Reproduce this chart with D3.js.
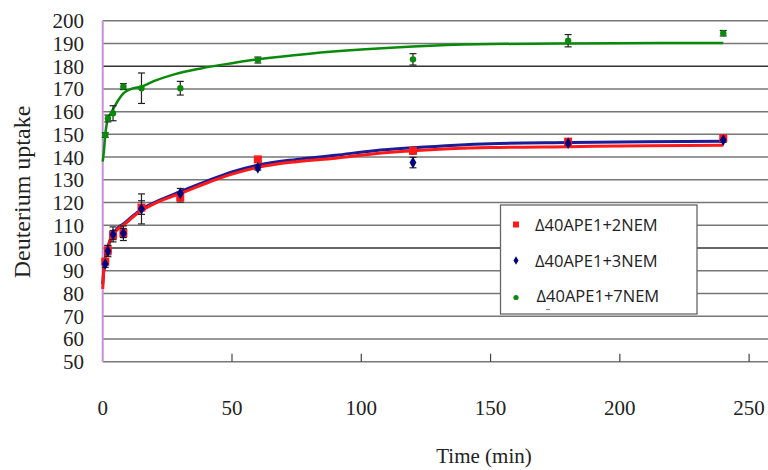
<!DOCTYPE html>
<html>
<head>
<meta charset="utf-8">
<script src="https://cdn.jsdelivr.net/npm/d3@7"></script>
<style>
  html, body { margin: 0; padding: 0; background: #fff; }
  svg { display: block; }
</style>
</head>
<body>
<svg id="chart" width="768" height="470"></svg>
<script>
// ---- data ----
const times = [1, 2, 4, 8, 15, 30, 60, 120, 180, 240];
const seriesNames = ["Δ40APE1+2NEM", "Δ40APE1+3NEM", "Δ40APE1+7NEM"];
const red = [94, 99, 105.7, 106.6, 117.8, 122.2, 139, 142.8, 146.8, 148.3];
const redErr = [1, 2, 2, 2, 3, 2, 1, 1.5, 1, 1];
const blue = [93, 98.7, 106, 106.5, 117.2, 124, 135.3, 137.6, 146.1, 147.5];
const blueErr = [1.5, 2.5, 3.3, 3.2, 6.6, 2.2, 1, 2.3, 1, 1];
const green = [149.7, 157, 159.3, 171, 170.3, 170.3, 182.7, 183, 191.2, 194.5];
const greenErr = [1, 1.5, 3.3, 1.3, 6.7, 3, 1.3, 2.5, 2.7, 1.2];
// fitted curves [time, uptake]
const redFit = [[0,82],[0.3,88],[0.7,93],[1.2,96.5],[2,100],[3,103.5],[4.5,106.5],[6,108.5],[8.5,110.5],[12,114],[15,116.5],[20,119.5],[30,124],[40,128.5],[50,132.5],[60,135.5],[75,138],[90,139.5],[105,141.5],[120,142.8],[150,144.2],[180,144.6],[210,145],[240,145.2]];
const blueFit = [[0,84],[0.3,89],[0.7,93.5],[1.2,97],[2,100.5],[3,104],[4.5,107],[6,109],[8.5,111],[12,114.5],[15,117],[20,120],[30,124.8],[40,129.3],[50,133.5],[60,136.5],[75,139],[90,140.8],[105,142.8],[120,144.1],[150,145.9],[180,146.4],[210,146.8],[240,147]];
const greenFit = [[0,138],[0.5,143],[1,150],[1.8,156],[3,159],[4,161],[6,165],[8,168],[11,170],[15,171],[20,173.5],[28,176.5],[38,179],[50,181.3],[60,183],[80,185.5],[100,187.3],[120,188.6],[145,189.6],[180,190],[240,190.2]];
const xTicks = [0, 50, 100, 150, 200, 250];
const yTicks = [50, 60, 70, 80, 90, 100, 110, 120, 130, 140, 150, 160, 170, 180, 190, 200];

// ---- scales ----
const svg = d3.select("#chart");
const x = d3.scaleLinear().domain([0, 257.3]).range([102.7, 768]);
const y = d3.scaleLinear().domain([50, 200]).range([361.7, 20.7]);

// gridlines
svg.append("g").selectAll("line").data(yTicks).join("line")
  .attr("x1", x(0)).attr("x2", 768)
  .attr("y1", d => y(d)).attr("y2", d => y(d))
  .attr("stroke", d => d === 100 || d === 180 ? "#333" : "#777")
  .attr("stroke-width", 1.5);

// bottom axis ticks (pointing up)
svg.append("g").selectAll("line").data(xTicks.filter(d => d > 0)).join("line")
  .attr("x1", d => x(d)).attr("x2", d => x(d))
  .attr("y1", y(50)).attr("y2", y(50) - 8)
  .attr("stroke", "#444").attr("stroke-width", 1.2);

// left axis line
svg.append("line")
  .attr("x1", x(0)).attr("x2", x(0)).attr("y1", y(200)).attr("y2", y(50))
  .attr("stroke", "#c88fd6").attr("stroke-width", 2);

// y tick labels
svg.append("g").selectAll("text").data(yTicks).join("text")
  .attr("x", 84).attr("y", d => y(d) + 7.5)
  .attr("text-anchor", "end")
  .attr("font-family", "'Liberation Serif', 'Times New Roman', serif")
  .attr("font-size", 21).attr("fill", "#222")
  .text(d => d);

// x tick labels
svg.append("g").selectAll("text").data(xTicks).join("text")
  .attr("x", d => x(d)).attr("y", 415)
  .attr("text-anchor", "middle")
  .attr("font-family", "'Liberation Serif', 'Times New Roman', serif")
  .attr("font-size", 21).attr("fill", "#222")
  .text(d => d);

// axis titles
svg.append("text")
  .attr("x", 484).attr("y", 463)
  .attr("text-anchor", "middle")
  .attr("font-family", "'Liberation Serif', 'Times New Roman', serif")
  .attr("font-size", 21).attr("fill", "#222")
  .text("Time (min)");
svg.append("text")
  .attr("transform", "translate(30,192) rotate(-90)")
  .attr("text-anchor", "middle")
  .attr("font-family", "'Liberation Serif', 'Times New Roman', serif")
  .attr("font-size", 24).attr("fill", "#222")
  .text("Deuterium uptake");

// fitted curves
const line = d3.line().x(d => x(d[0])).y(d => y(d[1])).curve(d3.curveMonotoneX);
svg.append("path").datum(blueFit).attr("d", line)
  .attr("fill", "none").attr("stroke", "#1c1c96").attr("stroke-width", 3);
svg.append("path").datum(redFit).attr("d", line)
  .attr("fill", "none").attr("stroke", "#ff1a1a").attr("stroke-width", 3);
svg.append("path").datum(greenFit).attr("d", line)
  .attr("fill", "none").attr("stroke", "#0a8a0a").attr("stroke-width", 2.5);

// error bars
function errorBars(vals, errs) {
  const g = svg.append("g").attr("stroke", "#222").attr("stroke-width", 1.2);
  times.forEach((t, i) => {
    const cx = x(t), y1 = y(vals[i] + errs[i]), y2 = y(vals[i] - errs[i]);
    g.append("line").attr("x1", cx).attr("x2", cx).attr("y1", y1).attr("y2", y2);
    g.append("line").attr("x1", cx - 3.5).attr("x2", cx + 3.5).attr("y1", y1).attr("y2", y1);
    g.append("line").attr("x1", cx - 3.5).attr("x2", cx + 3.5).attr("y1", y2).attr("y2", y2);
  });
}
errorBars(red, redErr);
errorBars(blue, blueErr);
errorBars(green, greenErr);

// markers
svg.append("g").selectAll("rect").data(times.map((t, i) => [t, red[i]])).join("rect")
  .attr("x", d => x(d[0]) - 4).attr("y", d => y(d[1]) - 4)
  .attr("width", 8).attr("height", 8).attr("fill", "#ff1a1a");
const diamond = d3.symbol().type(d3.symbolDiamond).size(40);
svg.append("g").selectAll("path").data(times.map((t, i) => [t, blue[i]])).join("path")
  .attr("transform", d => `translate(${x(d[0])},${y(d[1])})`)
  .attr("d", diamond).attr("fill", "#000080");
svg.append("g").selectAll("circle").data(times.map((t, i) => [t, green[i]])).join("circle")
  .attr("cx", d => x(d[0])).attr("cy", d => y(d[1])).attr("r", 3.2)
  .attr("fill", "#0a8a0a");

// legend
const lg = svg.append("g");
lg.append("rect").attr("x", 500.5).attr("y", 205).attr("width", 196.5).attr("height", 109)
  .attr("fill", "#fff").attr("stroke", "#666").attr("stroke-width", 1.3);
const legY = [224.5, 260.5, 295.5];
lg.append("rect").attr("x", 513).attr("y", legY[0] - 3).attr("width", 6).attr("height", 6).attr("fill", "#ff1a1a");
lg.append("path").attr("transform", `translate(516,${legY[1]})`)
  .attr("d", d3.symbol().type(d3.symbolDiamond).size(22)).attr("fill", "#000080");
lg.append("circle").attr("cx", 516).attr("cy", legY[2] + 2).attr("r", 2.6).attr("fill", "#0a8a0a");
lg.selectAll("text").data(seriesNames).join("text")
  .attr("x", (d, i) => i === 2 ? 536.5 : 535).attr("y", (d, i) => legY[i] + 6)
  .attr("font-family", "'Open Sans', 'Liberation Sans', sans-serif")
  .attr("font-size", 16.5).attr("fill", "#222")
  .text(d => d);
lg.append("line").attr("x1", 546).attr("x2", 550).attr("y1", 309.5).attr("y2", 309.5)
  .attr("stroke", "#888").attr("stroke-width", 1.2);
</script>
</body>
</html>
